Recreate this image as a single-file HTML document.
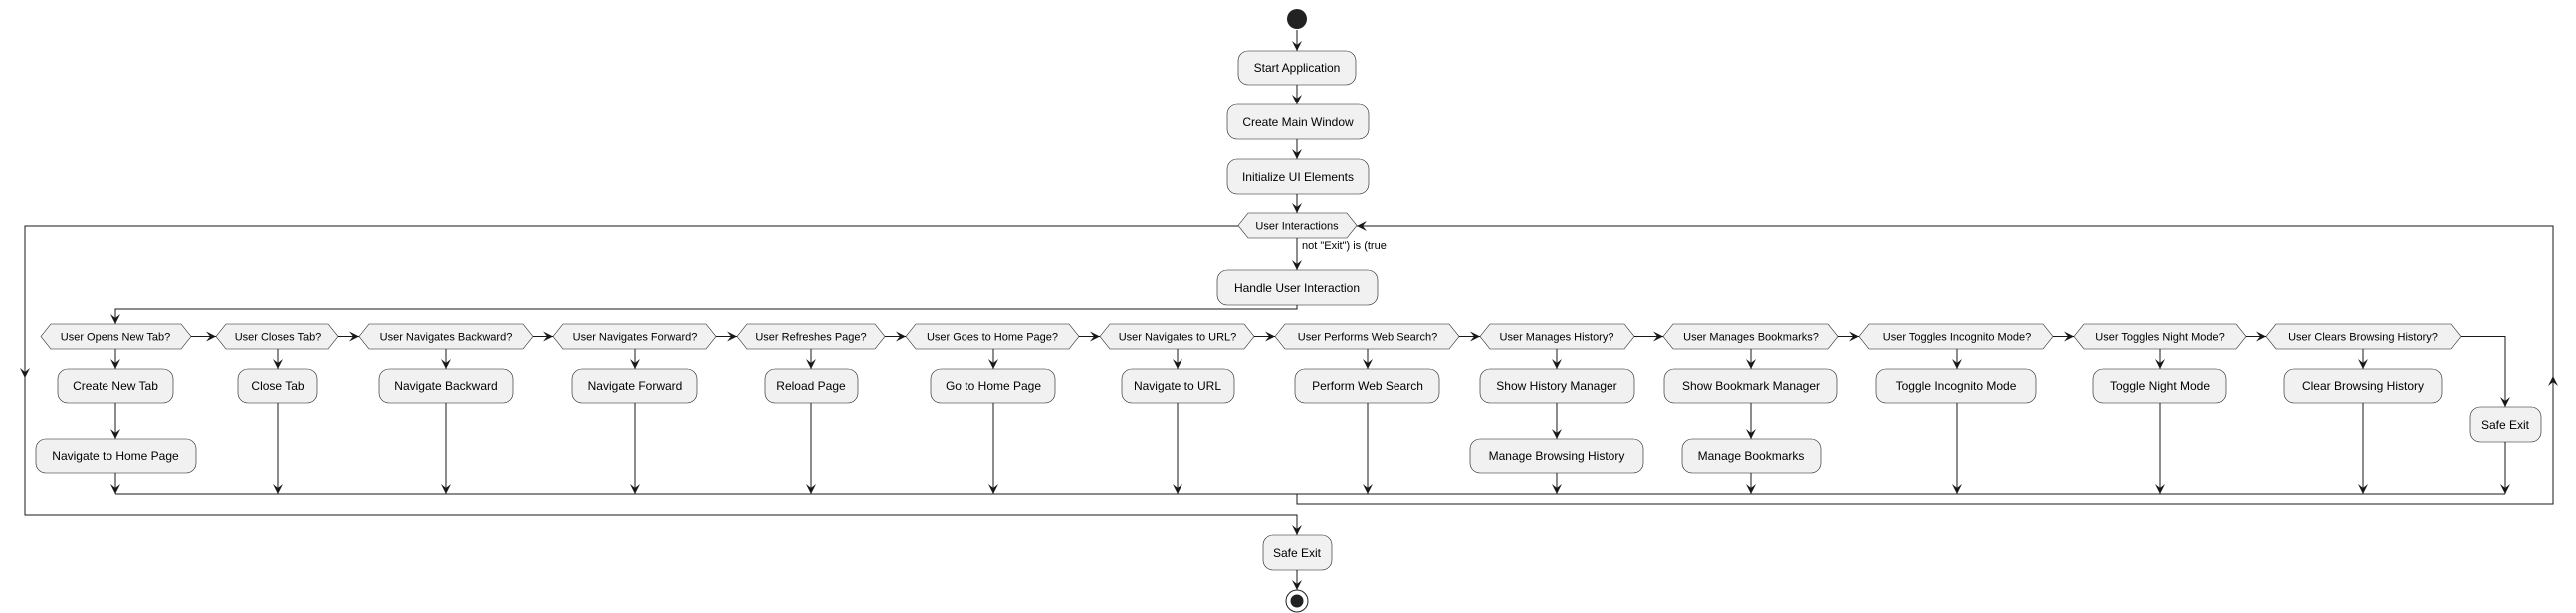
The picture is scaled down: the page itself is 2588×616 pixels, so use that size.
<!DOCTYPE html>
<html><head><meta charset="utf-8"><style>
html,body{margin:0;padding:0;background:#fff;}
svg{display:block;}
text{font-family:"Liberation Sans",sans-serif;fill:#000;}
</style></head><body>
<svg width="2588" height="616" viewBox="0 0 2588 616" xmlns="http://www.w3.org/2000/svg">
<defs>
<marker id="a" markerWidth="12" markerHeight="12" refX="10" refY="5" orient="auto" markerUnits="userSpaceOnUse">
<path d="M0,0 L10,5 L0,10 L4,5 Z" fill="#181818"/>
</marker>
</defs>
<g stroke="#181818" stroke-width="1" fill="none">
<!-- main spine -->
<line x1="1303" y1="30" x2="1303" y2="51" marker-end="url(#a)"/>
<line x1="1303" y1="85" x2="1303" y2="105" marker-end="url(#a)"/>
<line x1="1303" y1="140" x2="1303" y2="160" marker-end="url(#a)"/>
<line x1="1303" y1="195" x2="1303" y2="214" marker-end="url(#a)"/>
<line x1="1303" y1="239" x2="1303" y2="271" marker-end="url(#a)"/>
<polyline points="1303,306 1303,311 116,311 116,326" marker-end="url(#a)"/>
<!-- left loop -->
<polyline points="1244,227 25,227 25,380" marker-end="url(#a)"/>
<polyline points="25,378 25,518 1303,518 1303,538" marker-end="url(#a)"/>
<!-- right loop -->
<polyline points="1303,496 1303,506 2565,506 2565,378" marker-end="url(#a)"/>
<polyline points="2565,380 2565,227 1363,227" marker-end="url(#a)"/>
<line x1="1303" y1="573" x2="1303" y2="593" marker-end="url(#a)"/>
<!-- merge line -->
<line x1="116" y1="496" x2="2517" y2="496"/>
<!-- horizontal decision links -->
<line x1="192" y1="338.5" x2="217" y2="338.5" marker-end="url(#a)"/>
<line x1="340" y1="338.5" x2="361" y2="338.5" marker-end="url(#a)"/>
<line x1="535" y1="338.5" x2="556" y2="338.5" marker-end="url(#a)"/>
<line x1="719" y1="338.5" x2="740" y2="338.5" marker-end="url(#a)"/>
<line x1="889" y1="338.5" x2="910" y2="338.5" marker-end="url(#a)"/>
<line x1="1084" y1="338.5" x2="1105" y2="338.5" marker-end="url(#a)"/>
<line x1="1260" y1="338.5" x2="1281" y2="338.5" marker-end="url(#a)"/>
<line x1="1466" y1="338.5" x2="1487" y2="338.5" marker-end="url(#a)"/>
<line x1="1642" y1="338.5" x2="1671" y2="338.5" marker-end="url(#a)"/>
<line x1="1847" y1="338.5" x2="1868" y2="338.5" marker-end="url(#a)"/>
<line x1="2063" y1="338.5" x2="2084" y2="338.5" marker-end="url(#a)"/>
<line x1="2256" y1="338.5" x2="2277" y2="338.5" marker-end="url(#a)"/>
<polyline points="2472,338.5 2517,338.5 2517,409" marker-end="url(#a)"/>
<line x1="2517" y1="444" x2="2517" y2="496" marker-end="url(#a)"/>
<!-- verticals -->
<line x1="116" y1="351" x2="116" y2="371" marker-end="url(#a)"/>
<line x1="116" y1="405" x2="116" y2="441" marker-end="url(#a)"/>
<line x1="116" y1="475" x2="116" y2="496" marker-end="url(#a)"/>
<line x1="279" y1="351" x2="279" y2="371" marker-end="url(#a)"/>
<line x1="279" y1="405" x2="279" y2="496" marker-end="url(#a)"/>
<line x1="448" y1="351" x2="448" y2="371" marker-end="url(#a)"/>
<line x1="448" y1="405" x2="448" y2="496" marker-end="url(#a)"/>
<line x1="638" y1="351" x2="638" y2="371" marker-end="url(#a)"/>
<line x1="638" y1="405" x2="638" y2="496" marker-end="url(#a)"/>
<line x1="815" y1="351" x2="815" y2="371" marker-end="url(#a)"/>
<line x1="815" y1="405" x2="815" y2="496" marker-end="url(#a)"/>
<line x1="998" y1="351" x2="998" y2="371" marker-end="url(#a)"/>
<line x1="998" y1="405" x2="998" y2="496" marker-end="url(#a)"/>
<line x1="1183" y1="351" x2="1183" y2="371" marker-end="url(#a)"/>
<line x1="1183" y1="405" x2="1183" y2="496" marker-end="url(#a)"/>
<line x1="1374" y1="351" x2="1374" y2="371" marker-end="url(#a)"/>
<line x1="1374" y1="405" x2="1374" y2="496" marker-end="url(#a)"/>
<line x1="1564" y1="351" x2="1564" y2="371" marker-end="url(#a)"/>
<line x1="1564" y1="405" x2="1564" y2="441" marker-end="url(#a)"/>
<line x1="1564" y1="475" x2="1564" y2="496" marker-end="url(#a)"/>
<line x1="1759" y1="351" x2="1759" y2="371" marker-end="url(#a)"/>
<line x1="1759" y1="405" x2="1759" y2="441" marker-end="url(#a)"/>
<line x1="1759" y1="475" x2="1759" y2="496" marker-end="url(#a)"/>
<line x1="1966" y1="351" x2="1966" y2="371" marker-end="url(#a)"/>
<line x1="1966" y1="405" x2="1966" y2="496" marker-end="url(#a)"/>
<line x1="2170" y1="351" x2="2170" y2="371" marker-end="url(#a)"/>
<line x1="2170" y1="405" x2="2170" y2="496" marker-end="url(#a)"/>
<line x1="2374" y1="351" x2="2374" y2="371" marker-end="url(#a)"/>
<line x1="2374" y1="405" x2="2374" y2="496" marker-end="url(#a)"/>
</g>

<!-- start / end -->
<circle cx="1303" cy="19" r="10" fill="#222"/>
<circle cx="1303" cy="604" r="11" fill="#fff" stroke="#222" stroke-width="1"/>
<circle cx="1303" cy="604" r="6.5" fill="#222"/>

<g fill="#F1F1F1" stroke="#181818" stroke-width="0.6">
<rect x="1244" y="51" width="118" height="34" rx="10"/>
<rect x="1233" y="105" width="142" height="35" rx="10"/>
<rect x="1233" y="160" width="142" height="35" rx="10"/>
<polygon points="1244,226.5 1254,214 1353,214 1363,226.5 1353,239 1254,239"/>
<rect x="1223" y="271" width="161" height="35" rx="10"/>
<rect x="1269" y="538" width="69" height="35" rx="10"/>
<!-- decisions -->
<polygon points="41,338.5 51,326 182,326 192,338.5 182,351 51,351"/>
<polygon points="217,338.5 227,326 330,326 340,338.5 330,351 227,351"/>
<polygon points="361,338.5 371,326 525,326 535,338.5 525,351 371,351"/>
<polygon points="556,338.5 566,326 709,326 719,338.5 709,351 566,351"/>
<polygon points="740,338.5 750,326 879,326 889,338.5 879,351 750,351"/>
<polygon points="910,338.5 920,326 1074,326 1084,338.5 1074,351 920,351"/>
<polygon points="1105,338.5 1115,326 1250,326 1260,338.5 1250,351 1115,351"/>
<polygon points="1281,338.5 1291,326 1456,326 1466,338.5 1456,351 1291,351"/>
<polygon points="1487,338.5 1497,326 1632,326 1642,338.5 1632,351 1497,351"/>
<polygon points="1671,338.5 1681,326 1837,326 1847,338.5 1837,351 1681,351"/>
<polygon points="1868,338.5 1878,326 2053,326 2063,338.5 2053,351 1878,351"/>
<polygon points="2084,338.5 2094,326 2246,326 2256,338.5 2246,351 2094,351"/>
<polygon points="2277,338.5 2287,326 2462,326 2472,338.5 2462,351 2287,351"/>
<!-- actions row1 -->
<rect x="58" y="371" width="116" height="34" rx="10"/>
<rect x="239" y="371" width="79" height="34" rx="10"/>
<rect x="381" y="371" width="134" height="34" rx="10"/>
<rect x="575" y="371" width="125" height="34" rx="10"/>
<rect x="769" y="371" width="93" height="34" rx="10"/>
<rect x="935" y="371" width="125" height="34" rx="10"/>
<rect x="1127" y="371" width="113" height="34" rx="10"/>
<rect x="1301" y="371" width="145" height="34" rx="10"/>
<rect x="1487" y="371" width="155" height="34" rx="10"/>
<rect x="1672" y="371" width="174" height="34" rx="10"/>
<rect x="1885" y="371" width="160" height="34" rx="10"/>
<rect x="2103" y="371" width="133" height="34" rx="10"/>
<rect x="2295" y="371" width="158" height="34" rx="10"/>
<rect x="2482" y="409" width="71" height="35" rx="10"/>
<!-- row2 -->
<rect x="36" y="441" width="161" height="34" rx="10"/>
<rect x="1477" y="441" width="174" height="34" rx="10"/>
<rect x="1690" y="441" width="139" height="34" rx="10"/>
</g>

<g font-size="12" text-anchor="middle">
<text x="1303" y="72">Start Application</text>
<text x="1304" y="127">Create Main Window</text>
<text x="1304" y="182">Initialize UI Elements</text>
<text x="1303" y="293">Handle User Interaction</text>
<text x="1303" y="560">Safe Exit</text>
<text x="116" y="392">Create New Tab</text>
<text x="279" y="392">Close Tab</text>
<text x="448" y="392">Navigate Backward</text>
<text x="638" y="392">Navigate Forward</text>
<text x="815" y="392">Reload Page</text>
<text x="998" y="392">Go to Home Page</text>
<text x="1183" y="392">Navigate to URL</text>
<text x="1374" y="392">Perform Web Search</text>
<text x="1564" y="392">Show History Manager</text>
<text x="1759" y="392">Show Bookmark Manager</text>
<text x="1965" y="392">Toggle Incognito Mode</text>
<text x="2170" y="392">Toggle Night Mode</text>
<text x="2374" y="392">Clear Browsing History</text>
<text x="2517" y="431">Safe Exit</text>
<text x="116" y="462">Navigate to Home Page</text>
<text x="1564" y="462">Manage Browsing History</text>
<text x="1759" y="462">Manage Bookmarks</text>
</g>
<g font-size="11" text-anchor="middle">
<text x="1303" y="230.5">User Interactions</text>
<text x="116" y="342.5">User Opens New Tab?</text>
<text x="279" y="342.5">User Closes Tab?</text>
<text x="448" y="342.5">User Navigates Backward?</text>
<text x="638" y="342.5">User Navigates Forward?</text>
<text x="815" y="342.5">User Refreshes Page?</text>
<text x="997" y="342.5">User Goes to Home Page?</text>
<text x="1183" y="342.5">User Navigates to URL?</text>
<text x="1374" y="342.5">User Performs Web Search?</text>
<text x="1564" y="342.5">User Manages History?</text>
<text x="1759" y="342.5">User Manages Bookmarks?</text>
<text x="1966" y="342.5">User Toggles Incognito Mode?</text>
<text x="2170" y="342.5">User Toggles Night Mode?</text>
<text x="2374" y="342.5">User Clears Browsing History?</text>
</g>
<text x="1308" y="250" font-size="11">not "Exit") is (true</text>
</svg>
</body></html>
